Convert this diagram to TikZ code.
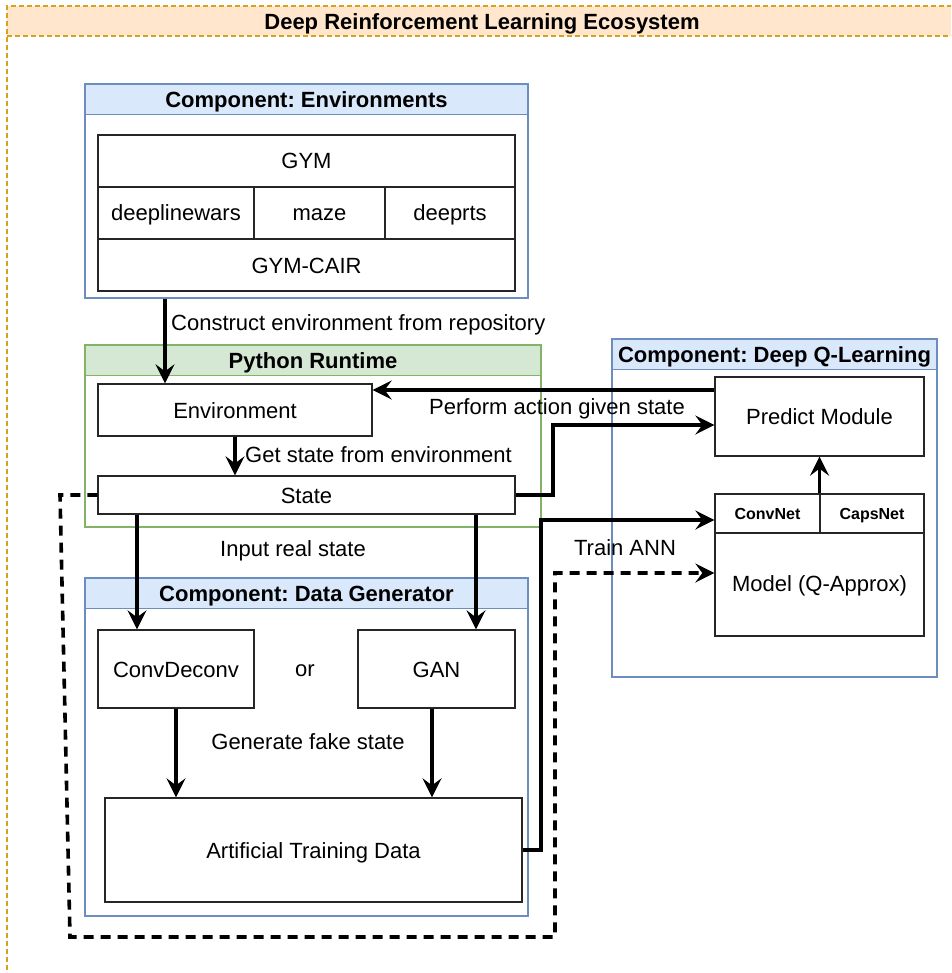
\documentclass[tikz,border=0pt]{standalone}
\usepackage{fontspec}
\setmainfont{Liberation Sans}
\frenchspacing
\usetikzlibrary{arrows.meta,calc}
\definecolor{orfill}{HTML}{FFE6CC}
\definecolor{orline}{HTML}{D9A21B}
\definecolor{blfill}{HTML}{DAE8FC}
\definecolor{blline}{HTML}{6C8EBF}
\definecolor{grfill}{HTML}{D5E8D4}
\definecolor{grline}{HTML}{82B366}
\begin{document}
\begin{tikzpicture}[x=1pt,y=-1pt,
  base/.style={font=\fontsize{22}{26}\selectfont, text height=16pt, text depth=0pt},
  sz/.style 2 args={minimum width=#1pt, minimum height=#2pt},
  box/.style={base, draw=black!85, line width=1.3pt, fill=white, inner sep=0pt},
  cont/.style={line width=1.3pt, fill=white, inner sep=0pt},
  head/.style={line width=1.3pt, inner sep=0pt, font=\bfseries\fontsize{22}{26}\selectfont, text height=16pt, text depth=0pt},
  small/.style={box, font=\bfseries\fontsize{16}{19}\selectfont, text height=11.6pt, text depth=0pt},
  lbl/.style={base, inner sep=0pt},
  conn/.style={line width=3.6pt, -{Stealth[length=19pt,width=19pt,inset=7pt]}},
  dconn/.style={conn, dash pattern=on 10pt off 7pt}]
\useasboundingbox (0,0) rectangle (951,973);
\clip (0,0) rectangle (951,973);
\fill[white] (0,0) rectangle (951,973);
% outer ecosystem
\fill[orfill] (7,6) rectangle (1000,36);
\draw[orline, line width=1.3pt, dash pattern=on 5pt off 3pt] (1000,6) -- (7,6) -- (7,1000);
\draw[orline, line width=1.3pt, dash pattern=on 5pt off 3pt] (7,36) -- (1000,36);
\node[head] (title) at (482,22) {Deep Reinforcement Learning Ecosystem};

% Environments component
\node[cont, draw=blline, sz={443}{214}] (envbox) at (306.5,191) {};
\node[head, fill=blfill, draw=blline, sz={443}{30}] (envhead) at (306.5,99.5) {Component: Environments};
\node[box, sz={417}{52}] (gym) at (306.5,161) {GYM};
\node[box, sz={156}{52}] (dlw) at (176,213) {deeplinewars};
\node[box, sz={131}{52}] (maze) at (319.5,213) {maze};
\node[box, sz={130}{52}] (drts) at (450,213) {deeprts};
\node[box, sz={417}{52}] (cair) at (306.5,265) {GYM-CAIR};

% Python runtime
\node[cont, draw=grline, sz={456}{182}] (pybox) at (313,436) {};
\node[head, fill=grfill, draw=grline, sz={456}{30}] (pyhead) at (313,360.5) {Python Runtime};
\node[box, sz={274}{52}] (environment) at (235,410) {Environment};
\node[box, sz={417}{38}] (state) at (306.5,495) {State};

% Deep Q-Learning
\node[cont, draw=blline, sz={325}{338}] (dqbox) at (774.5,508) {};
\node[head, fill=blfill, draw=blline, sz={325}{30}] (dqhead) at (774.5,354.5) {Component: Deep Q-Learning};
\node[box, sz={209}{79}] (predict) at (819.5,416.5) {Predict Module};
\node[box, sz={209}{142}] (modelbody) at (819.5,565) {};
\node[lbl] (modeltext) at (819.5,583) {Model (Q-Approx)};
\node[small, sz={105}{39}] (convnet) at (767.5,513.5) {ConvNet};
\node[small, sz={104}{39}] (capsnet) at (872,513.5) {CapsNet};

% Data generator
\node[cont, draw=blline, sz={443}{338}] (dgbox) at (306.5,747) {};
\node[head, fill=blfill, draw=blline, sz={443}{30}] (dghead) at (306.5,593.5) {Component: Data Generator};
\node[box, sz={156}{78}] (convdeconv) at (176,669) {ConvDeconv};
\node[box, sz={157}{78}] (gan) at (436.5,669) {GAN};
\node[lbl] (ortext) at (305,668) {or};
\node[box, sz={417}{104}] (atd) at (313.5,850) {Artificial Training Data};

% connectors
\draw[conn] (165,0 |- envbox.south) -- (165,0 |- environment.north);
\node[lbl, anchor=west] (lconstruct) at (171,322) {Construct environment from repository};
\draw[conn] (predict.west |- 0,390) -- (environment.east |- 0,390);
\node[lbl] (lperform) at (557,406) {Perform action given state};
\draw[conn] (state.east) -- (553,495) -- (553,425) -- (predict.west |- 0,425);
\draw[conn] (235,0 |- environment.south) -- (235,0 |- state.north);
\node[lbl, anchor=west] (lgetstate) at (245,454) {Get state from environment};
\draw[conn] (137,0 |- state.south) -- (137,0 |- convdeconv.north);
\draw[conn] (476,0 |- state.south) -- (476,0 |- gan.north);
\node[lbl] (linput) at (293,548) {Input real state};
\draw[conn] (176,0 |- convdeconv.south) -- (176,0 |- atd.north);
\draw[conn] (432,0 |- gan.south) -- (432,0 |- atd.north);
\node[lbl] (lgen) at (308,741) {Generate fake state};
\draw[conn] (atd.east) -- (541,850) -- (541,520) -- (modelbody.west |- 0,520);
\draw[conn] (modelbody.north) -- (predict.south);
\draw[dconn] (state.west) -- (60,495) -- (70,937) -- (555,937) -- (555,573) -- (modelbody.west |- 0,573);
\node[lbl] (ltrain) at (625,547) {Train ANN};
\end{tikzpicture}
\end{document}
